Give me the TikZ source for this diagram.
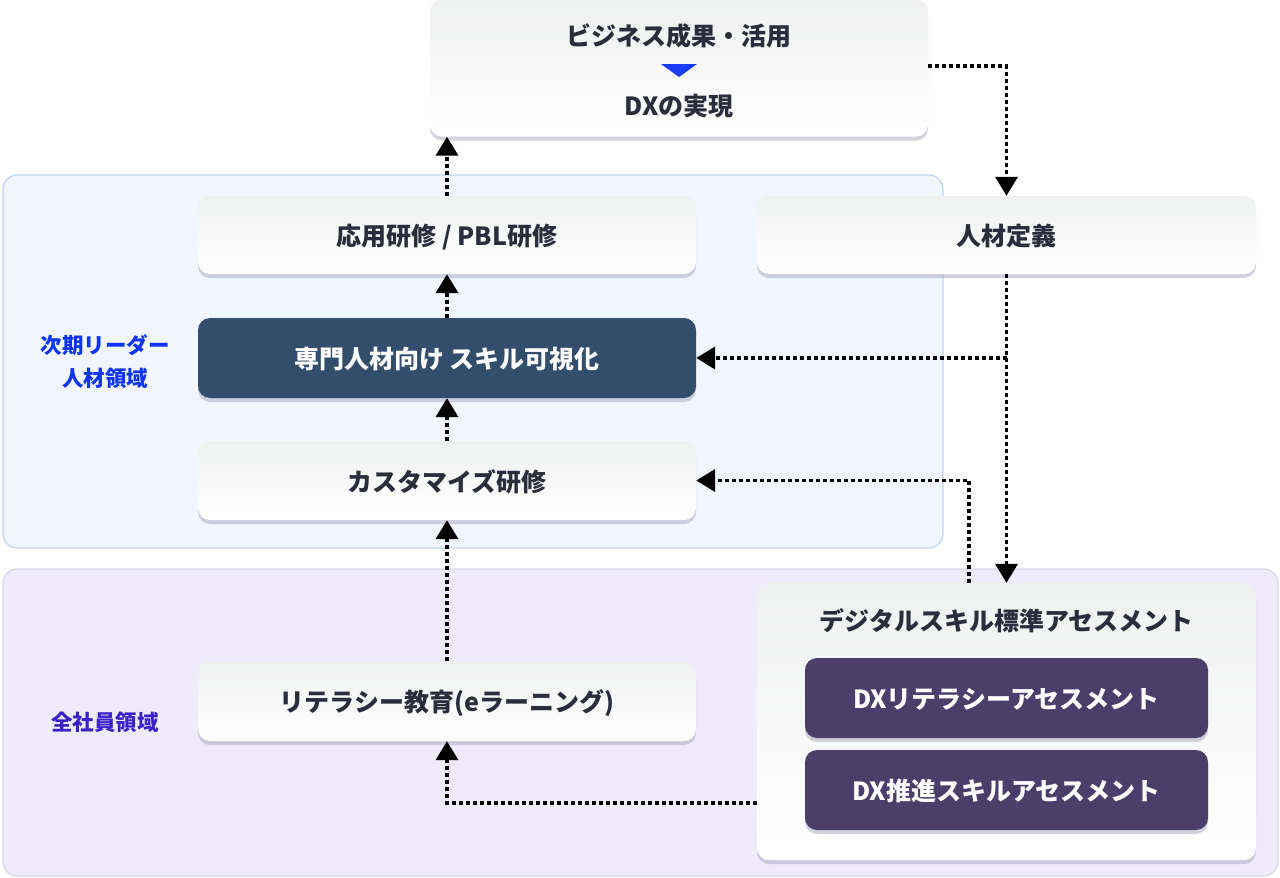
\documentclass[tikz,border=0pt]{standalone}
\usepackage{fontspec}
\setmainfont{Noto Sans CJK JP}
\usetikzlibrary{arrows.meta,shadows,calc}
\definecolor{txt}{HTML}{2B2D3C}
\definecolor{regB}{HTML}{F0F5FE}
\definecolor{regBline}{HTML}{BCD4F6}
\definecolor{regP}{HTML}{EFEAFC}
\definecolor{regPline}{HTML}{D9D5EA}
\definecolor{navy}{HTML}{334D6D}
\definecolor{plum}{HTML}{4A3F6B}
\definecolor{lblB}{HTML}{1035F0}
\definecolor{lblP}{HTML}{3A22C8}
\definecolor{triB}{HTML}{1A3CF5}
\definecolor{boxtop}{HTML}{EFF0F0}
\definecolor{shd}{HTML}{A8A8BC}
\tikzset{
  region/.style={rounded corners=14pt, line width=1.2pt},
  bigtxt/.style={font=\fontsize{25}{29}\selectfont\bfseries},
  wbox/.style={rounded corners=12pt, top color=boxtop, bottom color=white, draw=none,
    drop shadow={shadow xshift=0pt, shadow yshift=-4pt, fill=shd, opacity=0.5},
    bigtxt, text=txt, text depth=0pt},
  dbox/.style={rounded corners=12pt, draw=none,
    drop shadow={shadow xshift=0pt, shadow yshift=-4pt, fill=shd, opacity=0.5},
    bigtxt, text=white, text depth=0pt},
  lbl/.style={font=\fontsize{21.5}{33}\selectfont\bfseries, align=center},
  conn/.style={line width=3.8pt, dash pattern=on 4pt off 3pt, -{Triangle[length=19pt,width=22pt]}}
}
\begin{document}
\begin{tikzpicture}[x=1pt,y=-1pt]
\useasboundingbox (0,0) rectangle (1280,878);
% regions
\node[region, fill=regB, draw=regBline, minimum width=940, minimum height=373] (rb) at (473,361.5) {};
\node[region, fill=regP, draw=regPline, minimum width=1275, minimum height=307] (rp) at (640.5,722.5) {};
\node[lbl, text=lblB] (lb) at (105,362) {次期リーダー\\人材領域};
\node[lbl, text=lblP] (lp) at (105,722) {全社員領域};
% top box
\node[wbox, minimum width=498, minimum height=137] (top) at (679,68) {};
\node[bigtxt, text=txt] (t1) at (679,36) {ビジネス成果・活用};
\node[bigtxt, text=txt] (t2) at (679,106) {DXの実現};
\fill[triB] (661,64) -- (697,64) -- (679,77) -- cycle;
% boxes
\node[wbox, minimum width=498, minimum height=78] (oyo) at (447,235) {応用研修 / PBL研修};
\node[wbox, minimum width=499, minimum height=78] (jinzai) at (1006.5,235) {人材定義};
\node[dbox, fill=navy, minimum width=498, minimum height=80] (senmon) at (447,358) {専門人材向け スキル可視化};
\node[wbox, minimum width=498, minimum height=79] (custom) at (447,480.5) {カスタマイズ研修};
\node[wbox, minimum width=498, minimum height=80] (lit) at (447,701) {リテラシー教育(eラーニング)};
\node[wbox, minimum width=499, minimum height=277] (assess) at (1006.5,721.5) {};
\node[bigtxt, text=txt] (at) at (1006.5,621) {デジタルスキル標準アセスメント};
\node[dbox, fill=plum, minimum width=403, minimum height=80] (a1) at (1006.5,698) {DXリテラシーアセスメント};
\node[dbox, fill=plum, minimum width=403, minimum height=80] (a2) at (1006.5,790) {DX推進スキルアセスメント};
% connectors
\coordinate (pA) at (757,803);
\coordinate (pB) at (928,66);
\coordinate (pD) at (969,583);
\coordinate (pC) at (jinzai.south |- senmon.east);
\draw[conn] (oyo.north) -- (oyo.north |- top.south);
\draw[conn] (senmon.north) -- (oyo.south);
\draw[conn] (custom.north) -- (senmon.south);
\draw[conn] (lit.north) -- (custom.south);
\draw[conn] (pA) -| (lit.south);
\draw[conn] (pB) -| (jinzai.north);
\draw[conn] (jinzai.south) -- (jinzai.south |- assess.north);
\draw[conn] (pC) -- (senmon.east);
\draw[conn] (pD) |- (custom.east);
\end{tikzpicture}
\end{document}
